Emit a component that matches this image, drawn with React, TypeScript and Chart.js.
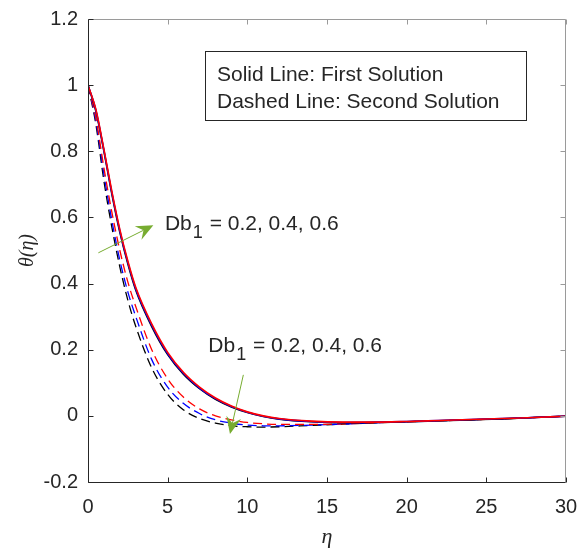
import React, { useEffect, useRef } from "react";
import { Chart, registerables } from "chart.js";

Chart.register(...registerables);

// η sample points
const eta = [0, 0.5, 1, 1.5, 2, 2.5, 3, 4, 5, 6, 7, 8, 9, 10, 11, 12, 14, 16, 18, 20, 22, 24, 26, 28, 30];

// First solution (solid)
const solidRed = [1.0, 0.926, 0.806, 0.678, 0.563, 0.468, 0.388, 0.278, 0.192, 0.131, 0.087, 0.054, 0.03, 0.012, 0.0, -0.008, -0.016, -0.019, -0.019, -0.017, -0.014, -0.011, -0.008, -0.005, -0.001];
const solidBlue = [1.0, 0.923, 0.803, 0.674, 0.559, 0.464, 0.384, 0.274, 0.188, 0.128, 0.084, 0.052, 0.028, 0.011, -0.001, -0.009, -0.017, -0.02, -0.019, -0.017, -0.014, -0.011, -0.008, -0.005, -0.001];
const solidBlack = [1.0, 0.92, 0.8, 0.67, 0.555, 0.46, 0.38, 0.27, 0.185, 0.125, 0.082, 0.05, 0.027, 0.01, -0.002, -0.01, -0.018, -0.021, -0.02, -0.018, -0.015, -0.012, -0.009, -0.005, -0.001];

// Second solution (dashed)
const dashRed = [1.0, 0.9, 0.75, 0.615, 0.5, 0.405, 0.33, 0.2, 0.112, 0.056, 0.021, 0.0, -0.012, -0.02, -0.024, -0.026, -0.026, -0.024, -0.021, -0.018, -0.015, -0.012, -0.009, -0.005, -0.001];
const dashBlue = [1.0, 0.89, 0.73, 0.59, 0.47, 0.375, 0.3, 0.17, 0.087, 0.037, 0.007, -0.012, -0.022, -0.028, -0.03, -0.03, -0.028, -0.025, -0.021, -0.018, -0.015, -0.012, -0.009, -0.005, -0.001];
const dashBlack = [1.0, 0.88, 0.71, 0.57, 0.45, 0.35, 0.27, 0.145, 0.065, 0.018, -0.008, -0.022, -0.03, -0.033, -0.034, -0.033, -0.029, -0.025, -0.021, -0.018, -0.015, -0.012, -0.009, -0.005, -0.001];

const xTicks = [0, 5, 10, 15, 20, 25, 30];
const yTicks = [-0.2, 0, 0.2, 0.4, 0.6, 0.8, 1, 1.2];

const legendLines = ["Solid Line: First Solution", "Dashed Line: Second Solution"];
const annotationValues = "= 0.2, 0.4, 0.6";

// annotation anchors in data coordinates (η, θ)
const arrows = [
  { from: [0.65, 0.493], to: [4.1, 0.576] },
  { from: [9.75, 0.124], to: [8.91, -0.055] },
];
const labels = [
  { at: [4.83, 0.561] },
  { at: [7.55, 0.194] },
];

const TEXT = "#262626";
const GREEN = "#77AC30";
const SANS = "'Liberation Sans', Arial, sans-serif";

const decorPlugin = {
  id: "decor",
  afterDatasetsDraw(chart: any) {
    const { ctx, chartArea: a, scales } = chart;
    const xs = scales.x;
    const ys = scales.y;
    ctx.save();
    const line = (x1: number, y1: number, x2: number, y2: number) => {
      ctx.beginPath();
      ctx.moveTo(x1, y1);
      ctx.lineTo(x2, y2);
      ctx.stroke();
    };
    const L = Math.round(a.left) + 0.5;
    const R = Math.round(a.right) - 0.5;
    const T = Math.round(a.top) + 0.5;
    const B = Math.round(a.bottom) + 0.5;
    ctx.lineWidth = 1;
    // top / right (lighter)
    ctx.strokeStyle = "#9a9a9a";
    line(L, T, R, T);
    line(R, T, R, B);
    xTicks.forEach((v) => {
      const px = Math.round(xs.getPixelForValue(v)) + 0.5;
      line(px, T, px, T + 5);
    });
    yTicks.forEach((v) => {
      const py = Math.round(ys.getPixelForValue(v)) + 0.5;
      line(R, py, R - 5, py);
    });
    // left / bottom
    ctx.strokeStyle = TEXT;
    line(L, T, L, B);
    line(L, B, R, B);
    xTicks.forEach((v) => {
      const px = Math.round(xs.getPixelForValue(v)) + 0.5;
      line(px, B, px, B - 5);
    });
    yTicks.forEach((v) => {
      const py = Math.round(ys.getPixelForValue(v)) + 0.5;
      line(L, py, L + 5, py);
    });

    // legend box
    const bx = a.left + 117;
    const by = a.top + 32;
    ctx.fillStyle = "#ffffff";
    ctx.fillRect(bx, by, 321, 69);
    ctx.strokeStyle = TEXT;
    ctx.strokeRect(bx + 0.5, by + 0.5, 321, 69);
    ctx.fillStyle = TEXT;
    ctx.font = `21px ${SANS}`;
    ctx.textBaseline = "alphabetic";
    ctx.textAlign = "left";
    ctx.fillText(legendLines[0], bx + 12, by + 30);
    ctx.fillText(legendLines[1], bx + 12, by + 57);

    // arrows
    ctx.strokeStyle = GREEN;
    ctx.fillStyle = GREEN;
    ctx.lineWidth = 1;
    arrows.forEach((ar) => {
      const x1 = xs.getPixelForValue(ar.from[0]);
      const y1 = ys.getPixelForValue(ar.from[1]);
      const x2 = xs.getPixelForValue(ar.to[0]);
      const y2 = ys.getPixelForValue(ar.to[1]);
      const dx = x2 - x1;
      const dy = y2 - y1;
      const len = Math.hypot(dx, dy);
      const ux = dx / len;
      const uy = dy / len;
      const nx = -uy;
      const ny = ux;
      const HL = 17;
      const W = 7.5;
      const inset = 6;
      line(x1, y1, x2 - ux * (HL - inset), y2 - uy * (HL - inset));
      ctx.beginPath();
      ctx.moveTo(x2, y2);
      ctx.lineTo(x2 - ux * HL + nx * W, y2 - uy * HL + ny * W);
      ctx.lineTo(x2 - ux * (HL - inset), y2 - uy * (HL - inset));
      ctx.lineTo(x2 - ux * HL - nx * W, y2 - uy * HL - ny * W);
      ctx.closePath();
      ctx.fill();
    });

    // labels
    ctx.fillStyle = TEXT;
    labels.forEach((lb) => {
      const x = xs.getPixelForValue(lb.at[0]);
      const y = ys.getPixelForValue(lb.at[1]);
      ctx.font = `21px ${SANS}`;
      ctx.fillText("Db", x, y);
      const w = ctx.measureText("Db").width;
      ctx.font = `18px ${SANS}`;
      ctx.fillText("1", x + w + 1, y + 8);
      const w1 = ctx.measureText("1").width;
      ctx.font = `21px ${SANS}`;
      ctx.fillText(" " + annotationValues, x + w + w1 + 2, y);
    });
    ctx.restore();
  },
};

function fmt(v: number) {
  return String(Number(v.toFixed(1)));
}

export default function App() {
  const ref = useRef<HTMLCanvasElement | null>(null);
  useEffect(() => {
    if (!ref.current) return;
    const mk = (label: string, data: number[], color: string, dashed: boolean) => ({
      label,
      data: eta.map((x, i) => ({ x, y: data[i] })),
      borderColor: color,
      backgroundColor: color,
      borderWidth: dashed ? 1.3 : 1.6,
      borderDash: dashed ? [9, 5] : [],
      pointRadius: 0,
      cubicInterpolationMode: "monotone" as const,
      fill: false,
    });
    const chart = new Chart(ref.current, {
      type: "line",
      data: {
        datasets: [
          mk("solid red", solidRed, "#ff0000", false),
          mk("solid blue", solidBlue, "#0000ff", false),
          mk("solid black", solidBlack, "#000000", false),
          mk("dash red", dashRed, "#ff0000", true),
          mk("dash blue", dashBlue, "#0000ff", true),
          mk("dash black", dashBlack, "#000000", true),
        ],
      },
      options: {
        animation: false,
        responsive: true,
        maintainAspectRatio: false,
        layout: { padding: 0 },
        plugins: { legend: { display: false }, tooltip: { enabled: false } },
        scales: {
          x: {
            type: "linear",
            min: 0,
            max: 30,
            afterBuildTicks: (s: any) => {
              s.ticks = xTicks.map((v) => ({ value: v }));
            },
            ticks: { color: TEXT, font: { family: SANS, size: 20 }, padding: 13, maxRotation: 0, autoSkip: false },
            grid: { display: false, drawTicks: false },
            border: { display: false },
            title: {
              display: true,
              text: "η",
              color: TEXT,
              font: { family: "'Liberation Serif', serif", style: "italic", size: 22 },
              padding: { top: 0, bottom: 2 },
            },
            afterFit: (s: any) => {
              s.height = 70;
              s.paddingLeft = 0;
              s.paddingRight = 13;
            },
          },
          y: {
            type: "linear",
            min: -0.2,
            max: 1.2,
            afterBuildTicks: (s: any) => {
              s.ticks = yTicks.map((v) => ({ value: v }));
            },
            ticks: { color: TEXT, font: { family: SANS, size: 20 }, padding: 10, autoSkip: false, callback: (v: any) => fmt(Number(v)) },
            grid: { display: false, drawTicks: false },
            border: { display: false },
            title: {
              display: true,
              text: "θ(η)",
              color: TEXT,
              font: { family: "'Liberation Serif', serif", style: "italic", size: 20 },
              padding: { top: 16, bottom: 0 },
            },
            afterFit: (s: any) => {
              s.width = 88;
              s.paddingTop = 19;
              s.paddingBottom = 0;
            },
          },
        },
      },
      plugins: [decorPlugin],
    });
    return () => chart.destroy();
  }, []);
  return (
    <div style={{ position: "absolute", left: 0, top: 0, width: 579, height: 552, background: "#fff" }}>
      <canvas ref={ref} />
    </div>
  );
}
